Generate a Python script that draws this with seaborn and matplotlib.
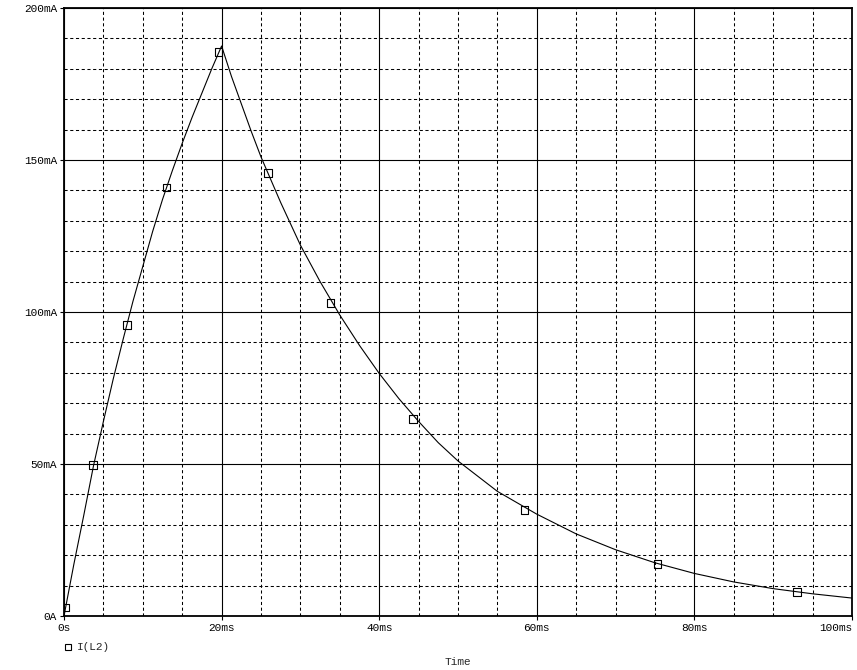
import matplotlib
matplotlib.use("Agg")
import matplotlib.pyplot as plt
import seaborn as sns
import pandas as pd
from matplotlib.lines import Line2D
from matplotlib.ticker import MultipleLocator

# curve I(L2), time in ms, current in mA
time_ms = [0, 1.25, 2.5, 3.75, 5, 6.25, 7.5, 8.75, 10, 11.25, 12.5, 13.75,
           15, 16.25, 17.5, 18.75, 20,
           21.25, 22.5, 23.75, 25, 26.25, 27.5, 30, 32.5, 35, 37.5, 40,
           42.5, 45, 47.5, 50, 55, 60, 65, 70, 75, 80, 85, 90, 95, 100]
current_ma = [0, 17, 33, 49.5, 64, 78, 91, 103.5, 115, 126.5, 137, 146.5,
              155.5, 164, 172, 180, 187.5,
              177.5, 168.5, 159.5, 151, 143.5, 136, 122, 110, 99, 89, 79.8,
              71.5, 64, 57, 51, 41, 33.5, 27, 21.8, 17.5, 14, 11.2, 9, 7.3, 5.9]

# square markers drawn on the trace
marker_t = [0.2, 3.7, 8.0, 13.0, 19.6, 25.9, 33.8, 44.3, 58.4, 75.3, 93.0]
marker_i = [2.8, 49.7, 95.7, 141, 185.5, 145.7, 103, 64.8, 34.9, 17.1, 7.9]

x_ticks = [0, 20, 40, 60, 80, 100]
x_labels = ["0s", "20ms", "40ms", "60ms", "80ms", "100ms"]
y_ticks = [0, 50, 100, 150, 200]
y_labels = ["0A", "50mA", "100mA", "150mA", "200mA"]

sns.set_style("white")
plt.rcParams["font.family"] = ["Liberation Mono", "DejaVu Sans Mono"]

curve = pd.DataFrame({"t": time_ms, "i": current_ma})
marks = pd.DataFrame({"t": marker_t, "i": marker_i})

fig = plt.figure(figsize=(8.57, 6.7), dpi=100)
ax = fig.add_axes([64 / 857, 1 - 616 / 670, (852 - 64) / 857, (616 - 8) / 670])

ax.set_xlim(0, 100)
ax.set_ylim(0, 200)
ax.xaxis.set_minor_locator(MultipleLocator(5))
ax.yaxis.set_minor_locator(MultipleLocator(10))
ax.grid(which="major", color="black", linewidth=0.8)
ax.grid(which="minor", color="black", linewidth=0.75, linestyle=(0, (3, 2.5)))
ax.set_axisbelow(True)

sns.lineplot(data=curve, x="t", y="i", color="black", linewidth=0.8, ax=ax)
sns.scatterplot(data=marks, x="t", y="i", marker="s", s=28, facecolor="none",
                edgecolor="black", linewidth=0.8, ax=ax, zorder=3)

ax.set_xticks(x_ticks)
ax.set_xticklabels(x_labels)
ax.set_yticks(y_ticks)
ax.set_yticklabels(y_labels)
ax.tick_params(which="major", direction="out", length=3, width=0.8, pad=2,
               labelsize=8, colors="black", bottom=True, left=True)
ax.tick_params(which="minor", length=0)
ax.get_xticklabels()[-1].set_horizontalalignment("right")

for s in ax.spines.values():
    s.set_color("black")
    s.set_linewidth(1.3)

ax.set_xlabel("Time", fontsize=8, labelpad=17)
ax.set_ylabel("")

# legend entry below the plot
fig.add_artist(Line2D([68 / 857], [1 - 647 / 670], marker="s", markersize=5,
                      markerfacecolor="none", markeredgecolor="black",
                      markeredgewidth=0.8, linestyle="none"))
fig.text(77 / 857, 1 - 647 / 670, "I(L2)", fontsize=8, va="center", ha="left")

fig.savefig("out.png", dpi=100)
